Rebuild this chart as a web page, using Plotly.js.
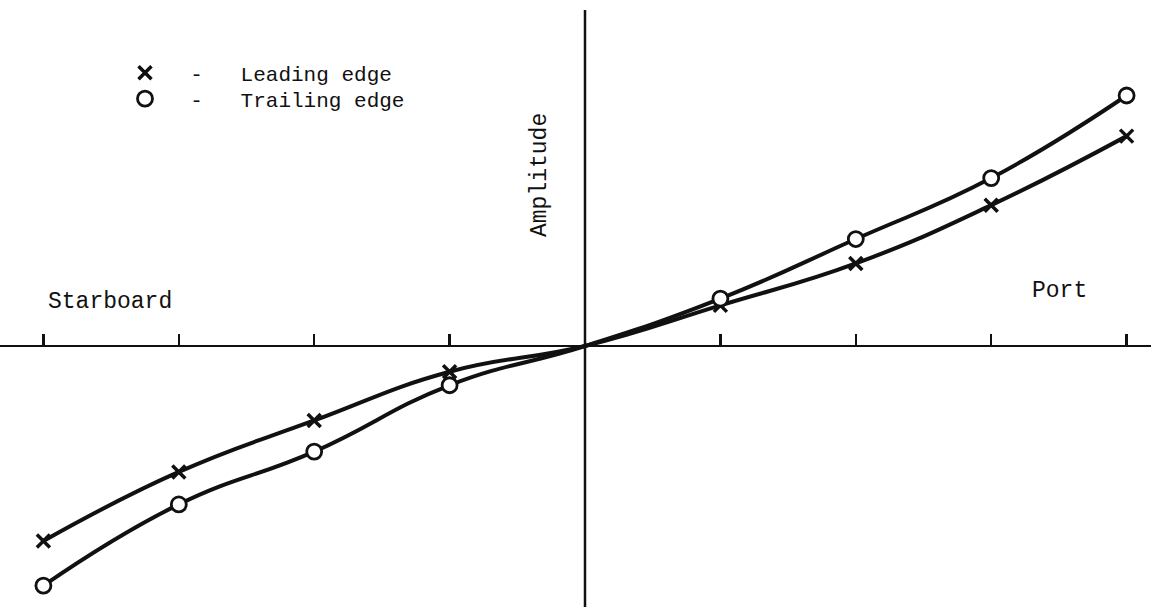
<!DOCTYPE html>
<html>
<head>
<meta charset="utf-8">
<script src="https://cdn.plot.ly/plotly-3.0.1.min.js"></script>
<style>html,body{margin:0;padding:0;background:#fff;}#chart{width:1151px;height:607px;}</style>
</head>
<body>
<div id="chart"></div>
<script>
// Stations along the span (Starboard negative, Port positive)
var stations = [-4, -3, -2, -1, 0, 1, 2, 3, 4];
// Amplitude readings (arbitrary units)
var leadingEdge  = [-1.44, -0.93, -0.55, -0.19, 0, 0.30, 0.61, 1.04, 1.55];
var trailingEdge = [-1.77, -1.17, -0.78, -0.29, 0, 0.35, 0.79, 1.24, 1.85];
var tickStations = [-4, -3, -2, -1, 1, 2, 3, 4];
var seriesNames = ['Leading edge', 'Trailing edge'];

var W = 1151, H = 607;
var FONT = 'Liberation Mono, Courier New, monospace';
var INK = '#111';

function markerPoints(xs, ys) {
  var mx = [], my = [];
  for (var i = 0; i < xs.length; i++) {
    if (xs[i] !== 0) { mx.push(xs[i]); my.push(ys[i]); }
  }
  return {x: mx, y: my};
}
var lm = markerPoints(stations, leadingEdge);
var tm = markerPoints(stations, trailingEdge);
var nb = '\u00a0';
function legendLabel(s) { return nb + nb + '-' + nb + nb + nb + s; }

var traces = [
  {x: stations, y: leadingEdge, mode: 'lines', line: {color: INK, width: 4, shape: 'spline', smoothing: 1.3}, showlegend: false, hoverinfo: 'skip'},
  {x: stations, y: trailingEdge, mode: 'lines', line: {color: INK, width: 4, shape: 'spline', smoothing: 1.3}, showlegend: false, hoverinfo: 'skip'},
  {x: lm.x, y: lm.y, mode: 'markers', name: legendLabel(seriesNames[0]), legend: 'legend',
   marker: {symbol: 'x-thin-open', size: 13, color: INK, line: {color: INK, width: 3.5}}},
  {x: tm.x, y: tm.y, mode: 'markers', name: legendLabel(seriesNames[1]), legend: 'legend2',
   marker: {symbol: 'circle', size: 15, color: '#fff', line: {color: INK, width: 2.8}}}
];

var pxPerUnit = 135.4, cx = 585, cy = 346;
var layout = {
  width: W, height: H,
  margin: {l: 0, r: 0, t: 0, b: 0, pad: 0},
  paper_bgcolor: '#fff', plot_bgcolor: '#fff',
  xaxis: {
    range: [-cx / pxPerUnit, (W - cx) / pxPerUnit],
    showgrid: false, zeroline: false, showline: false,
    showticklabels: false,
    tickmode: 'array', tickvals: tickStations,
    ticks: 'inside', ticklen: 12, tickwidth: 2.5, tickcolor: INK,
    anchor: 'free', position: (H - cy) / H
  },
  yaxis: {
    range: [-(H - cy) / pxPerUnit, cy / pxPerUnit],
    showgrid: false, showticklabels: false, ticks: '',
    zeroline: true, zerolinecolor: INK, zerolinewidth: 2.5
  },
  shapes: [
    {type: 'line', xref: 'x', yref: 'paper', x0: 0, x1: 0, y0: 0, y1: 1 - 10 / H,
     line: {color: INK, width: 2.5}}
  ],
  showlegend: true,
  legend: {x: 125 / W, xanchor: 'left', y: 1 - 73 / H, yanchor: 'middle',
           bgcolor: 'rgba(0,0,0,0)', font: {family: FONT, size: 21, color: INK}},
  legend2: {x: 125 / W, xanchor: 'left', y: 1 - 99 / H, yanchor: 'middle',
           bgcolor: 'rgba(0,0,0,0)', font: {family: FONT, size: 21, color: INK}},
  annotations: [
    {text: 'Starboard', xref: 'paper', yref: 'paper', x: 46 / W, y: 1 - 302 / H,
     xanchor: 'left', yanchor: 'middle', showarrow: false, font: {family: FONT, size: 23, color: INK}},
    {text: 'Port', xref: 'paper', yref: 'paper', x: 1030 / W, y: 1 - 291 / H,
     xanchor: 'left', yanchor: 'middle', showarrow: false, font: {family: FONT, size: 23, color: INK}},
    {text: 'Amplitude', xref: 'paper', yref: 'paper', x: 540 / W, y: 1 - 175 / H,
     xanchor: 'center', yanchor: 'middle', textangle: -90, showarrow: false,
     font: {family: FONT, size: 23, color: INK}}
  ]
};

Plotly.newPlot('chart', traces, layout, {staticPlot: true, displayModeBar: false});
</script>
</body>
</html>
